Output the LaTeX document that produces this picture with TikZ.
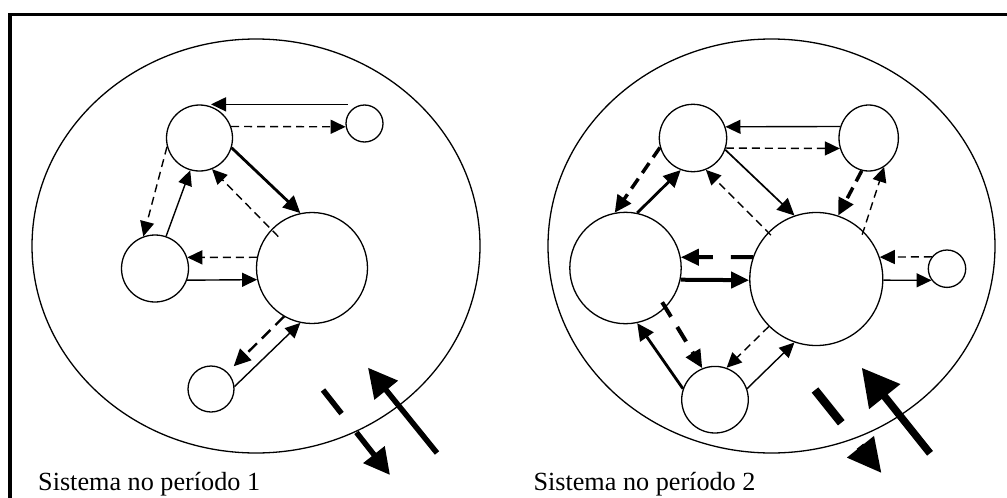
\documentclass[tikz,border=0pt]{standalone}
\usepackage{fontspec}
\setmainfont{Liberation Serif}
\usetikzlibrary{arrows.meta,shapes.geometric,calc}
\begin{document}
\begin{tikzpicture}[x=1pt,y=-1pt,
  nd/.style={circle,draw,line width=1.3pt,inner sep=0pt,minimum size=#1},
  big/.style={draw,line width=1.3pt},
  con/.style={line width=1.4pt,-{Triangle[length=15pt,width=14pt]}},
  conk/.style={line width=#1,-{Triangle[length=17pt,width=16pt]}},
  dsh/.style={line width=1.4pt,dash pattern=on 8pt off 5pt,-{Triangle[length=15pt,width=14pt]}},
  dshk/.style={line width=#1,dash pattern=on 12pt off 7pt,-{Triangle[length=17pt,width=16pt]}},
  lbl/.style={anchor=base west,inner sep=0pt,font=\fontsize{26.2pt}{30pt}\selectfont}
]
\path[use as bounding box] (0,0) rectangle (1007,498);
% frame
\draw[line width=3.5pt] (10,498) -- (10,14.5) -- (1007,14.5);
% system boundaries
\draw[big] (256,246) ellipse [x radius=224, y radius=207];
\draw[big] (771.5,246) ellipse [x radius=223.5, y radius=207];

% ---------- period 1 ----------
\node[nd=66pt]  (a1) at (199.5,138) {};
\node[nd=37pt]  (b1) at (364.5,123.5) {};
\node[nd=67pt]  (c1) at (155,268.5) {};
\node[nd=111pt] (d1) at (312,268) {};
\node[nd=46pt]  (e1) at (211,389) {};

\draw[con] ([xshift=-17pt]b1.north) -- (a1.70 |- b1.north);
\draw[dsh] (a1.20) -- (b1.190);
\draw[conk=2.8pt] (a1.-17) -- (d1.102);
\draw[dsh] ($(d1.center)!0.82!(d1.137)$) -- (a1.-68);
\draw[dsh] (a1.195) -- (c1.110);
\draw[con] (c1.71) -- (a1.254);
\draw[dsh] (d1.169) -- (c1.19.5);
\draw[con] (c1.-20) -- (d1.192.5);
\draw[con] (e1.6) -- (d1.258);
\draw[dshk=2.4pt] (d1.240.7) -- ($(e1.center)!1.36!(e1.45)$);

\coordinate (l1s) at (437,453);
\coordinate (l1e) at (368,367.7);
\draw[line width=5.5pt,-{Triangle[length=29pt,width=29pt]}] (l1s) -- (l1e);
\coordinate (l2s) at (323,390);
\coordinate (l2e) at (390,475);
\draw[line width=5.5pt,dash pattern=on 30pt off 24pt,-{Triangle[length=26pt,width=26pt]}] (l2s) -- (l2e);

\node[lbl] (t1) at (38,490) {Sistema no período 1};

% ---------- period 2 ----------
\node[nd=67.4pt] (a2) at (693,138) {};
\node[ellipse,draw,line width=1.3pt,inner sep=0pt,minimum width=59.4pt,minimum height=66pt] (b2) at (868.7,138) {};
\node[nd=111.4pt] (c2) at (625.5,268) {};
\node[nd=133pt]  (d2) at (816.3,279) {};
\node[nd=37.4pt] (e2) at (947,268.7) {};
\node[nd=66.6pt] (f2) at (715,399.7) {};

\draw[con] (b2.158) -- (a2.19.6);
\draw[dsh] (a2.-17.8) -- (b2.200);
\draw[conk=1.7pt] (a2.-20) -- (d2.109);
\draw[dsh] ($(d2.center)!0.94!(d2.136.5)$) -- (a2.-68);
\draw[dshk=3.5pt] (a2.196.5) -- (c2.101);
\draw[conk=2.8pt] (c2.78.4) -- (a2.249);
\draw[dshk=3.5pt] (b2.258) -- (d2.71);
\draw[dsh] ($(d2.center)!0.95!(d2.44)$) -- (b2.-62);
\draw[line width=4pt,dash pattern=on 22pt off 18pt,-{Triangle[length=18pt,width=16pt]}] (d2.161) -- (c2.11);
\draw[line width=4pt,-{Triangle[length=18pt,width=16pt]}] (c2.-12.4) -- (d2.181);
\draw[dsh] (e2.142) -- (d2.19);
\draw[con] (d2.-1) -- (e2.217);
\draw[line width=4pt,dash pattern=on 17pt off 12pt,-{Triangle[length=18pt,width=16pt]}] ($(c2.center)!0.89!(c2.-43)$) -- (f2.112);
\draw[conk=2.8pt] (f2.161) -- (c2.-78.6);
\draw[dsh] (d2.225) -- (f2.70.5);
\draw[con] (f2.19) -- (d2.251);

\coordinate (r1s) at (930,453.3);
\coordinate (r1e) at (861.7,367.7);
\draw[line width=7.5pt,-{Triangle[length=37pt,width=38pt]}] (r1s) -- (r1e);
\coordinate (r2s) at (815,390);
\coordinate (r2e) at (881.7,473.3);
\draw[line width=8.5pt,dash pattern=on 42pt off 30pt,-{Triangle[length=34pt,width=32pt]}] (r2s) -- (r2e);

\node[lbl] (t2) at (533.3,490) {Sistema no período 2};
\end{tikzpicture}
\end{document}
